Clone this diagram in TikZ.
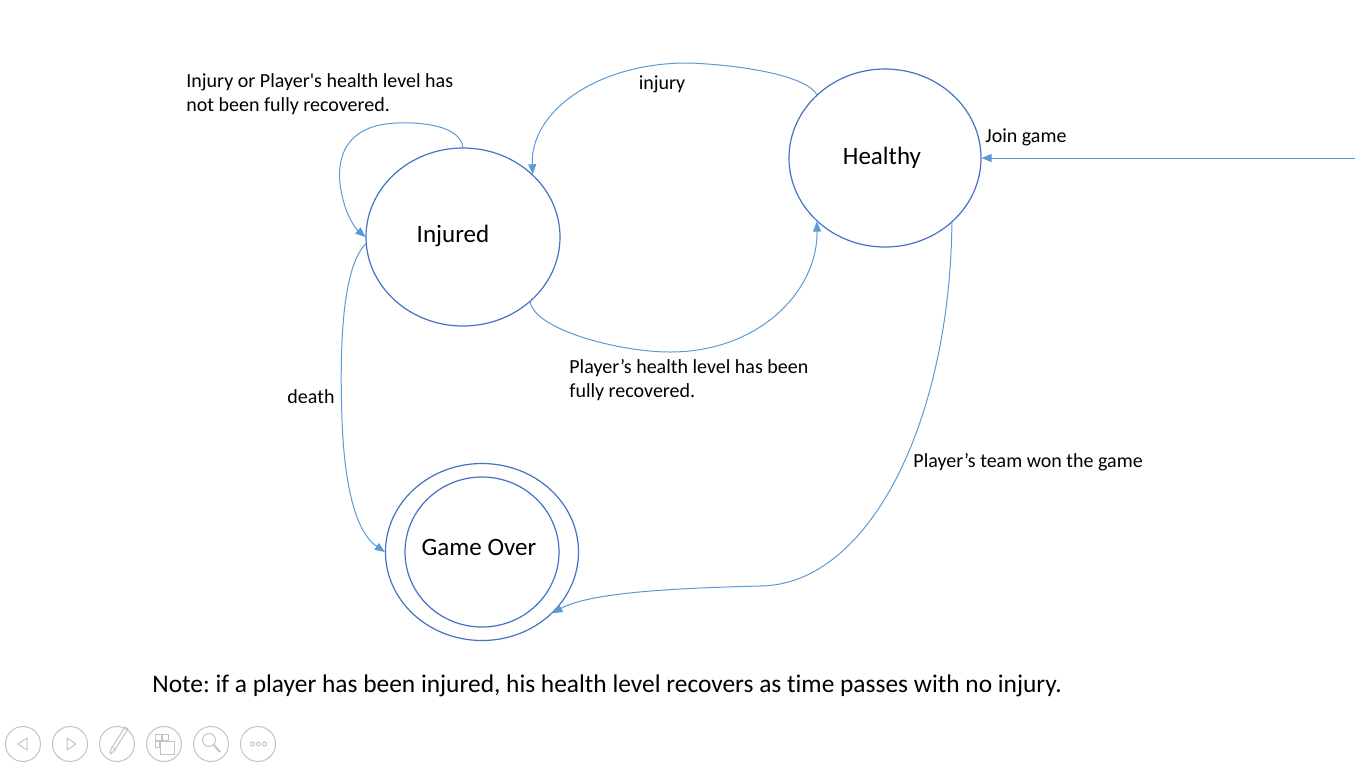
\documentclass[tikz,border=0pt]{standalone}
\usepackage{fontspec}
\setmainfont{Carlito}[Ligatures={TeX,NoCommon}]
\usetikzlibrary{shapes.geometric,arrows.meta}
\definecolor{stateblue}{HTML}{4472C4}
\definecolor{edgeblue}{HTML}{5B9BD5}
\definecolor{toolgray}{HTML}{C4C4C4}
\tikzset{
  statebox/.style={ellipse, draw=stateblue, line width=0.6pt, inner sep=0pt},
  statetext/.style={inner sep=0pt, font=\fontsize{12.5}{15}\selectfont},
  edgelabel/.style={inner sep=0pt, align=left, font=\fontsize{10}{11.8}\selectfont},
  trans/.style={draw=edgeblue, line width=0.5pt, -{Triangle[length=5pt,width=4pt]}},
  toolcircle/.style={circle, draw=toolgray, line width=0.5pt, minimum size=17.5pt, inner sep=0pt},
  toolglyph/.style={draw=toolgray, line width=0.5pt}
}
\begin{document}
\frenchspacing
\begin{tikzpicture}[x=0.5pt,y=-0.5pt]
\useasboundingbox[fill=white] (0,0) rectangle (1366,768);

% states
\node[statebox, minimum width=97pt, minimum height=89pt] (injured) at (463,237) {};
\node[statebox, minimum width=96pt, minimum height=89pt] (healthy) at (885,158) {};
\node[statebox, minimum width=96.5pt, minimum height=88.5pt] (gameover) at (482,552) {};
\node[statebox, minimum width=77pt, minimum height=75pt] (gameoverin) at (482,552) {};

\node[statetext] (injuredtxt) at (453,236) {Injured};
\node[statetext] (healthytxt) at (882,158) {Healthy};
\node[statetext] (gameovertxt) at (479,547) {Game Over};

% transitions
\draw[trans] (healthy.137.6) .. controls (805,75) and (740,65) .. (690,63)
  .. controls (600,62) and (530,110) .. (injured.42.8);
\draw[trans] (injured.90) .. controls (460,125) and (420,122) .. (397,123)
  .. controls (340,125) and (335,165) .. (342,195)
  .. controls (346,215) and (355,228) .. (injured.180);
\draw[trans] (injured.184) .. controls (340,270) and (340,360) .. (342,420)
  .. controls (345,500) and (360,535) .. (gameover.180);
\draw[trans] (injured.316) .. controls (535,330) and (620,352) .. (670,352)
  .. controls (760,352) and (818,290) .. (healthy.223);
\draw[trans] (healthy.316.7) .. controls (950,420) and (870,585) .. (760,586)
  .. controls (680,588) and (590,592) .. (gameover.319.3);
\coordinate (entry) at (1355,158);
\draw[trans] (entry) -- (healthy.east);

% labels (base anchor = baseline of the last line)
\node[edgelabel, anchor=base west] (lblloop) at (186,111) {Injury or Player\textquotesingle s health level has\\not been fully recovered.};
\node[edgelabel, anchor=base] (lblinjury) at (662,89) {injury};
\node[edgelabel, anchor=base west] (lbljoin) at (985,142) {Join game};
\node[edgelabel, anchor=base west] (lblrecover) at (569,397) {Player’s health level has been\\fully recovered.};
\node[edgelabel, anchor=base] (lbldeath) at (311,403) {death};
\node[edgelabel, anchor=base west] (lblwon) at (913,467) {Player’s team won the game};
\node[inner sep=0pt, anchor=base west, font=\fontsize{12.7}{15}\selectfont] (note) at (152,692) {Note: if a player has been injured, his health level recovers as time passes with no injury.};

% presentation toolbar
\node[toolcircle] (tbprev) at (23,744) {};
\node[toolcircle] (tbnext) at (70,744) {};
\node[toolcircle] (tbpen) at (117,744) {};
\node[toolcircle] (tbslides) at (164,744) {};
\node[toolcircle] (tbzoom) at (211,744) {};
\node[toolcircle] (tbmore) at (258,744) {};
\draw[toolglyph, line join=round] (27,738) -- (27,750) -- (18,744) -- cycle;
\draw[toolglyph, line join=round] (67,738) -- (67,750) -- (76,744) -- cycle;
\draw[toolglyph, line join=round] (110,754) -- (111,749) -- (125,727) -- (128,729) -- (114,751) -- cycle;
\draw[toolglyph] (113,748) -- (116,750);
\draw[toolglyph] (155,734) rectangle (161,740);
\draw[toolglyph] (162,734) rectangle (168,740);
\draw[toolglyph] (155,741) rectangle (159,747);
\draw[toolglyph] (160,741) rectangle (174,754);
\draw[toolglyph] (209,740) circle[radius=6.5];
\draw[toolglyph, line width=1pt] (214,745) -- (220,752);
\draw[toolglyph] (252.5,744) circle[radius=2];
\draw[toolglyph] (258.5,744) circle[radius=2];
\draw[toolglyph] (264.5,744) circle[radius=2];
\end{tikzpicture}
\end{document}
